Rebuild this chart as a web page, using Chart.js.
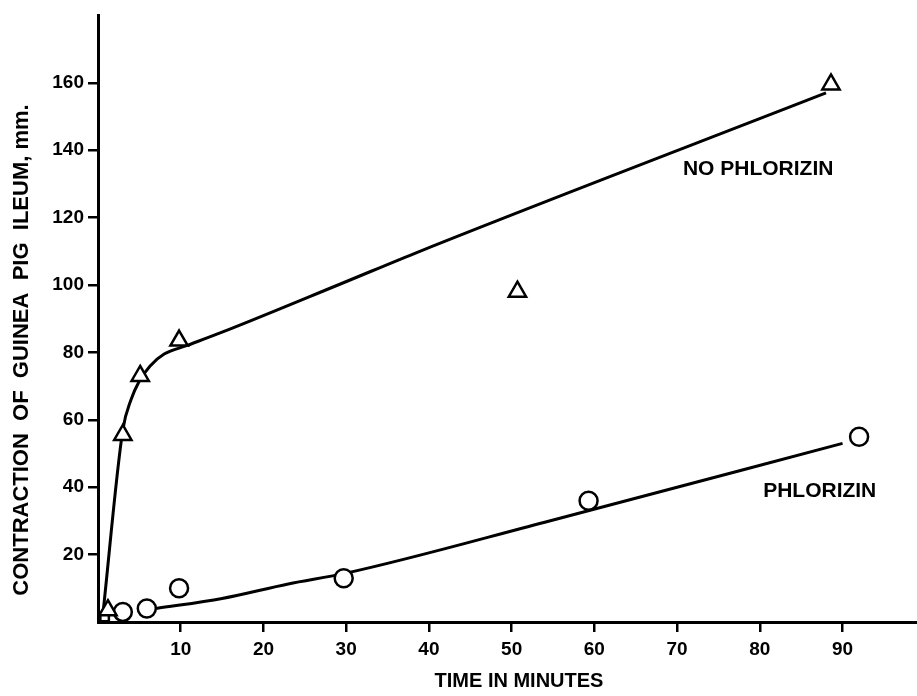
<!DOCTYPE html>
<html>
<head>
<meta charset="utf-8">
<script src="https://cdn.jsdelivr.net/npm/chart.js@4/dist/chart.umd.min.js"></script>
<style>
  html, body { margin: 0; padding: 0; background: #fff; overflow: hidden; }
  #wrap { width: 917px; height: 696px; position: relative; }
  canvas { display: block; }
</style>
</head>
<body>
<div id="wrap"><canvas id="chart"></canvas></div>
<script>
// Puntos medidos (triángulos = sin florizina, círculos = florizina)
const noPhlorizinTime = [1.2, 3, 5.1, 9.8, 50.7, 88.6];
const noPhlorizinValue = [3.5, 55.5, 73, 83.5, 98, 159.5];

const phlorizinTime = [0.8, 3, 5.9, 9.8, 29.7, 59.3, 92];
const phlorizinValue = [1.5, 3, 4, 10, 13, 36, 55];

// Curvas trazadas a mano
const noPhlorizinFitTime = [0.6, 3, 4, 5, 6.3, 8, 10.7, 15, 29.3, 38.9, 88];
const noPhlorizinFitValue = [2.5, 57, 66, 71.5, 76, 79.5, 82, 86, 100.3, 110, 157];

const phlorizinFitTime = [7, 15, 23, 30, 54, 90];
const phlorizinFitValue = [4, 7, 11.3, 14.5, 29.6, 53];

// Marcas de los ejes
const xTicks = [10, 20, 30, 40, 50, 60, 70, 80, 90];
const yTicks = [20, 40, 60, 80, 100, 120, 140, 160];

const toXY = (xs, ys) => xs.map((x, i) => ({ x: x, y: ys[i] }));

Chart.defaults.font.family = "'Liberation Sans', Arial, sans-serif";
Chart.defaults.color = '#000';

// Títulos de ejes y etiquetas de las curvas
const textPlugin = {
  id: 'textos',
  afterDraw: (chart) => {
    const { ctx, scales } = chart;
    ctx.save();
    ctx.fillStyle = '#000';
    ctx.font = 'bold 21px "Liberation Sans", Arial, sans-serif';
    ctx.textBaseline = 'middle';

    ctx.textAlign = 'left';
    ctx.fillText('NO PHLORIZIN', scales.x.getPixelForValue(70.7), scales.y.getPixelForValue(134.3));
    ctx.fillText('PHLORIZIN', scales.x.getPixelForValue(80.4), scales.y.getPixelForValue(38.8));

    ctx.textAlign = 'center';
    ctx.font = 'bold 20px "Liberation Sans", Arial, sans-serif';
    ctx.fillText('TIME IN MINUTES', 519, 681);

    ctx.translate(22, 350);
    ctx.rotate(-Math.PI / 2);
    ctx.font = 'bold 22px "Liberation Sans", Arial, sans-serif';
    ctx.fillText('CONTRACTION  OF  GUINEA  PIG  ILEUM, mm.', 0, 0);
    ctx.restore();
  }
};

new Chart(document.getElementById('chart'), {
  type: 'scatter',
  data: {
    datasets: [
      {
        label: 'No phlorizin',
        data: toXY(noPhlorizinTime, noPhlorizinValue),
        pointStyle: 'triangle',
        pointRadius: 10,
        pointBorderWidth: 2.5,
        pointBackgroundColor: '#fff',
        pointBorderColor: '#000',
        showLine: false,
        order: 0
      },
      {
        label: 'Phlorizin',
        data: toXY(phlorizinTime, phlorizinValue),
        pointStyle: ['rect', 'circle', 'circle', 'circle', 'circle', 'circle', 'circle'],
        pointRadius: [6, 9, 9, 9, 9, 9, 9],
        pointBorderWidth: 2.5,
        pointBackgroundColor: '#fff',
        pointBorderColor: '#000',
        showLine: false,
        order: 0
      },
      {
        label: 'No phlorizin curve',
        data: toXY(noPhlorizinFitTime, noPhlorizinFitValue),
        showLine: true,
        borderColor: '#000',
        borderWidth: 3,
        pointRadius: 0,
        cubicInterpolationMode: 'monotone',
        order: 1
      },
      {
        label: 'Phlorizin curve',
        data: toXY(phlorizinFitTime, phlorizinFitValue),
        showLine: true,
        borderColor: '#000',
        borderWidth: 3,
        pointRadius: 0,
        cubicInterpolationMode: 'monotone',
        order: 1
      }
    ]
  },
  options: {
    responsive: true,
    maintainAspectRatio: false,
    animation: false,
    layout: { autoPadding: false, padding: { top: 12, right: 0, bottom: 0, left: 0 } },
    plugins: {
      legend: { display: false },
      tooltip: { enabled: false }
    },
    scales: {
      x: {
        type: 'linear',
        min: 0,
        max: 99,
        afterBuildTicks: (scale) => { scale.ticks = xTicks.map(v => ({ value: v })); },
        afterFit: (scale) => { scale.height = 74; },
        grid: {
          drawOnChartArea: false,
          drawTicks: true,
          tickLength: 10,
          color: '#000',
          lineWidth: 2.5
        },
        border: { color: '#000', width: 3 },
        ticks: {
          padding: 6,
          maxRotation: 0,
          font: { size: 19, weight: 'bold' },
          color: '#000'
        }
      },
      y: {
        type: 'linear',
        min: 0,
        max: 180,
        afterBuildTicks: (scale) => { scale.ticks = yTicks.map(v => ({ value: v })); },
        afterFit: (scale) => { scale.width = 98; },
        grid: {
          drawOnChartArea: false,
          drawTicks: true,
          tickLength: 10,
          color: '#000',
          lineWidth: 2.5
        },
        border: { color: '#000', width: 3 },
        ticks: {
          padding: 4,
          font: { size: 19, weight: 'bold' },
          color: '#000'
        }
      }
    }
  },
  plugins: [textPlugin]
});
</script>
</body>
</html>
